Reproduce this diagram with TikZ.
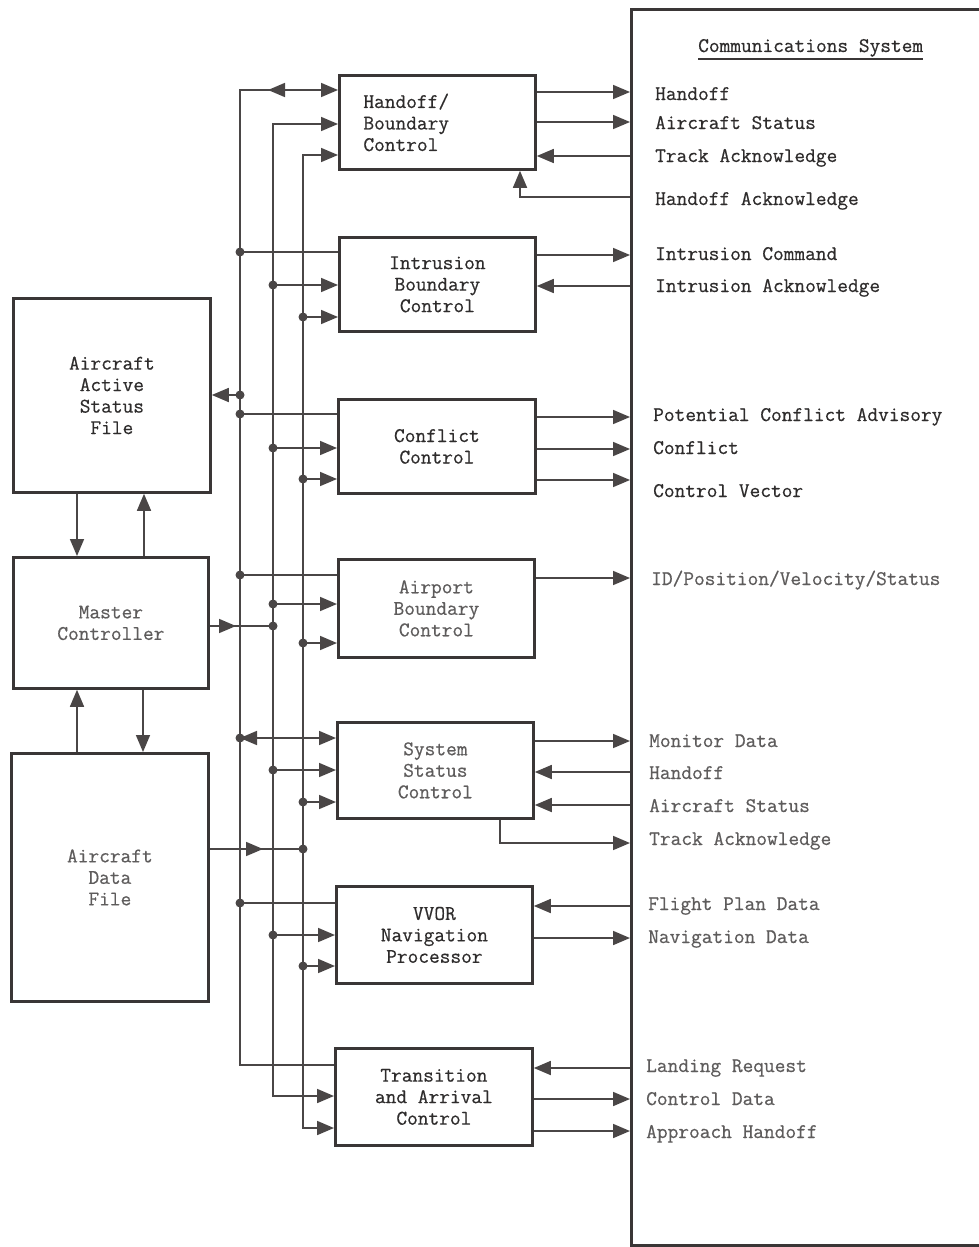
\documentclass[tikz,border=0pt]{standalone}
\usepackage{fontspec}
\newfontfamily\typew{Latin Modern Mono}[FakeBold=0.6]
\usetikzlibrary{arrows.meta}
\definecolor{ink}{HTML}{3A3636}
\definecolor{wire}{HTML}{4A4646}
\definecolor{txt}{HTML}{2E2C2C}
\definecolor{txtlt}{HTML}{5E5C5C}

\begin{document}
\begin{tikzpicture}[x=1pt,y=-1pt,
  tw/.style={font=\typew\fontsize{20.8}{21.5}\selectfont},
  box/.style={tw, draw=ink, line width=2.8pt, inner sep=0pt, anchor=north west,
              align=center, text=txt},
  light/.style={text=txtlt},
  wire/.style={draw=wire, line width=1.7pt},
  tip/.style={-{Triangle[length=17pt,width=14pt]}},
  arr/.style={wire, tip},
  biarr/.style={wire, {Triangle[length=17pt,width=14pt]}-{Triangle[length=17pt,width=14pt]}},
  lbl/.style={tw, anchor=base west, inner sep=0pt, text=txt},
  dot/.style={fill=wire}
]
\useasboundingbox (0,0) rectangle (979,1247);

% bus columns
\def\bA{240}
\def\bB{273}
\def\bC{303}

% left column of files and controller
\node[box, minimum width=197pt, minimum height=194pt] (aasf) at (12,297)
  {Aircraft\\Active\\Status\\File};
\node[box, light, minimum width=195pt, minimum height=131pt] (mc) at (12,556)
  {Master\\Controller};
\node[box, light, minimum width=197pt, minimum height=248pt] (adf) at (10,752)
  {Aircraft\\Data\\File};

% processing modules
\node[box, minimum width=196pt, minimum height=94pt, text width=148pt, align=left] (hb) at (338,74)
  {Handoff/\\Boundary\\Control};
\node[box, minimum width=196pt, minimum height=94pt] (ib) at (338,236)
  {Intrusion\\Boundary\\Control};
\node[box, minimum width=197pt, minimum height=94pt] (cc) at (337,398)
  {Conflict\\Control};
\node[box, light, minimum width=196pt, minimum height=98pt] (ab) at (337,558)
  {Airport\\Boundary\\Control};
\node[box, light, minimum width=196pt, minimum height=96pt] (ss) at (336,721)
  {System\\Status\\Control};
\node[box, minimum width=196pt, minimum height=97pt] (vv) at (335,885)
  {VVOR\\Navigation\\Processor};
\node[box, minimum width=197pt, minimum height=97pt] (ta) at (334,1047)
  {Transition\\and Arrival\\Control};

% communications system (right side runs off the page)
\node[draw=ink, line width=2.8pt, inner sep=0pt, anchor=north west,
      minimum width=390pt, minimum height=1236pt] (comm) at (630,8) {};
\node[lbl] (title) at (698,52) {Communications System};
\draw[ink, line width=1.4pt] ([yshift=-7pt]title.base west) -- ([yshift=-7pt]title.base east);

% left column links
\draw[arr] (aasf.south -| 77,0) -- (mc.north -| 77,0);
\draw[arr] (mc.north -| 144,0) -- (aasf.south -| 144,0);
\draw[arr] (adf.north -| 77,0) -- (mc.south -| 77,0);
\draw[arr] (mc.south -| 143,0) -- (adf.north -| 143,0);

% bus A
\draw[arr] (ta.west |- 0,1065) -- (\bA,1065) -- (\bA,90) -- (hb.west |- 0,90);
\draw[arr] (287,90) -- (268,90);
\draw[wire] (\bA,252) -- (ib.west |- 0,252);
\draw[arr] (\bA,395) -- (aasf.east |- 0,395);
\draw[wire] (\bA,414) -- (cc.west |- 0,414);
\draw[wire] (\bA,575) -- (ab.west |- 0,575);
\draw[biarr] (\bA,738) -- (ss.west |- 0,738);
\draw[wire] (\bA,903) -- (vv.west |- 0,903);
\foreach \y in {252,395,414,575,738,903} \fill[dot] (\bA,\y) circle (4.5pt);

% bus B
\draw[biarr] (hb.west |- 0,124) -- (\bB,124) -- (\bB,1096) -- (ta.west |- 0,1096);
\draw[arr] (\bB,285) -- (ib.west |- 0,285);
\draw[arr] (\bB,448) -- (cc.west |- 0,448);
\draw[arr] (\bB,604) -- (ab.west |- 0,604);
\draw[arr] (\bB,770) -- (ss.west |- 0,770);
\draw[arr] (\bB,935) -- (vv.west |- 0,935);
\draw[wire] (mc.east |- 0,626) -- (\bB,626);
\draw[arr] (216,626) -- (236,626);
\foreach \y in {285,448,604,626,770,935} \fill[dot] (\bB,\y) circle (4.5pt);

% bus C
\draw[biarr] (hb.west |- 0,155) -- (\bC,155) -- (\bC,1128) -- (ta.west |- 0,1128);
\draw[arr] (\bC,317) -- (ib.west |- 0,317);
\draw[arr] (\bC,479) -- (cc.west |- 0,479);
\draw[arr] (\bC,643) -- (ab.west |- 0,643);
\draw[arr] (\bC,802) -- (ss.west |- 0,802);
\draw[arr] (\bC,966) -- (vv.west |- 0,966);
\draw[wire] (adf.east |- 0,849) -- (\bC,849);
\draw[arr] (243,849) -- (263,849);
\foreach \y in {317,479,643,802,849,966} \fill[dot] (\bC,\y) circle (4.5pt);

% module <-> communications links
\draw[arr] (hb.east |- 0,92) -- (comm.west |- 0,92);
\draw[arr] (hb.east |- 0,122) -- (comm.west |- 0,122);
\draw[arr] (comm.west |- 0,156) -- (hb.east |- 0,156);
\draw[arr] (comm.west |- 0,197) -| (hb.south -| 520,0);
\draw[arr] (ib.east |- 0,255) -- (comm.west |- 0,255);
\draw[arr] (comm.west |- 0,286) -- (ib.east |- 0,286);
\draw[arr] (cc.east |- 0,417) -- (comm.west |- 0,417);
\draw[arr] (cc.east |- 0,449) -- (comm.west |- 0,449);
\draw[arr] (cc.east |- 0,480) -- (comm.west |- 0,480);
\draw[arr] (ab.east |- 0,578) -- (comm.west |- 0,578);
\draw[arr] (ss.east |- 0,741) -- (comm.west |- 0,741);
\draw[arr] (comm.west |- 0,772) -- (ss.east |- 0,772);
\draw[arr] (comm.west |- 0,805) -- (ss.east |- 0,805);
\draw[arr] (ss.south -| 500,0) |- (comm.west |- 0,843);
\draw[arr] (comm.west |- 0,906) -- (vv.east |- 0,906);
\draw[arr] (vv.east |- 0,938) -- (comm.west |- 0,938);
\draw[arr] (comm.west |- 0,1068) -- (ta.east |- 0,1068);
\draw[arr] (ta.east |- 0,1099) -- (comm.west |- 0,1099);
\draw[arr] (ta.east |- 0,1131) -- (comm.west |- 0,1131);

% message labels
\node[lbl] (l1) at (655,100) {Handoff};
\node[lbl] (l2) at (655,129) {Aircraft Status};
\node[lbl] (l3) at (655,162) {Track Acknowledge};
\node[lbl] (l4) at (655,205) {Handoff Acknowledge};
\node[lbl] (l5) at (655,260) {Intrusion Command};
\node[lbl] (l6) at (655,292) {Intrusion Acknowledge};
\node[lbl] (l7) at (653,421) {Potential Conflict Advisory};
\node[lbl] (l8) at (653,454) {Conflict};
\node[lbl] (l9) at (653,497) {Control Vector};
\node[lbl, light] (l10) at (651,585) {ID/Position/Velocity/Status};
\node[lbl, light] (l11) at (649,747) {Monitor Data};
\node[lbl, light] (l12) at (649,779) {Handoff};
\node[lbl, light] (l13) at (649,812) {Aircraft Status};
\node[lbl, light] (l14) at (649,845) {Track Acknowledge};
\node[lbl, light] (l15) at (648,910) {Flight Plan Data};
\node[lbl, light] (l16) at (648,943) {Navigation Data};
\node[lbl, light] (l17) at (646,1072) {Landing Request};
\node[lbl, light] (l18) at (646,1105) {Control Data};
\node[lbl, light] (l19) at (646,1138) {Approach Handoff};
\end{tikzpicture}
\end{document}
